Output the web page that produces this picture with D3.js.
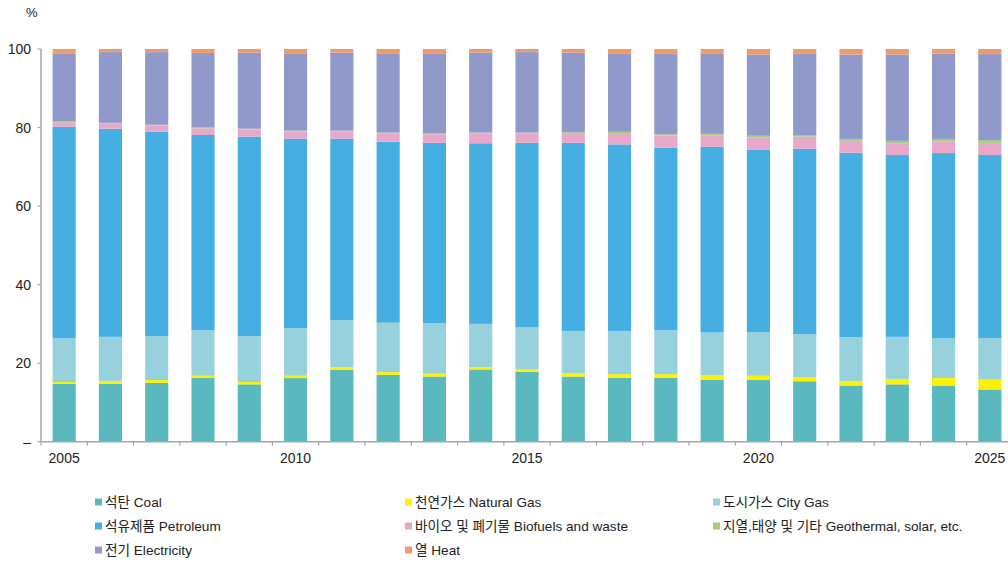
<!DOCTYPE html>
<html><head><meta charset="utf-8">
<script src="https://cdn.jsdelivr.net/npm/d3@7"></script>
<style>
body{margin:0;background:#fff;}
svg{display:block;font-family:"Liberation Sans","Noto Sans CJK KR",Arial,sans-serif;}
</style></head>
<body><svg id="c" width="1008" height="562"></svg>
<script>
const years = [2005,2006,2007,2008,2009,2010,2011,2012,2013,2014,2015,2016,2017,2018,2019,2020,2021,2022,2023,2024,2025];
const coal        = [14.7,14.7,15.0,16.3,14.6,16.2,18.3,17.0,16.6,18.4,17.8,16.6,16.3,16.3,15.8,15.7,15.4,14.3,14.6,14.3,13.3];
const naturalGas  = [0.5,0.8,0.7,0.5,0.6,0.6,0.7,0.7,0.7,0.6,0.6,0.9,0.9,0.9,1.1,1.1,1.0,1.1,1.4,1.9,2.5];
const cityGas     = [11.1,11.2,11.2,11.6,11.7,12.1,12.0,12.6,12.9,11.0,10.8,10.7,11.0,11.2,10.9,11.1,11.0,11.2,10.7,10.2,10.6];
const petroleum   = [53.9,53.0,52.0,49.7,50.8,48.3,46.2,46.1,45.9,46.0,46.9,47.9,47.5,46.5,47.3,46.5,47.2,47.0,46.3,47.1,46.6];
const biofuels    = [1.1,1.3,1.6,1.7,1.8,1.8,1.8,2.1,2.2,2.5,2.4,2.5,2.9,3.1,2.9,3.1,3.1,3.0,3.0,3.0,3.1];
const geothermal  = [0.2,0.2,0.2,0.2,0.2,0.2,0.2,0.2,0.2,0.2,0.2,0.2,0.3,0.3,0.4,0.4,0.4,0.5,0.6,0.6,0.7];
const electricity = [17.4,18.0,18.5,19.0,19.4,19.7,19.9,20.2,20.4,20.4,20.5,20.3,20.0,20.6,20.5,20.7,20.8,21.5,22.0,21.7,21.9];
const heat        = [1.1,0.8,0.8,1.0,0.9,1.1,0.9,1.1,1.1,0.9,0.8,0.9,1.1,1.1,1.1,1.4,1.1,1.4,1.4,1.2,1.3];
const seriesNames = ["석탄 Coal","천연가스 Natural Gas","도시가스 City Gas","석유제품 Petroleum","바이오 및 폐기물 Biofuels and waste","지열,태양 및 기타 Geothermal, solar, etc.","전기 Electricity","열 Heat"];
const seriesColors = ["#5ab9be","#fff200","#96d1dc","#47aee2","#e8a8c9","#a1cf7e","#9199cb","#f09a6a"];
const yTicks = [0,20,40,60,80,100];
const yTickLabels = ["–","20","40","60","80","100"];
const xLabelYears = [2005,2010,2015,2020,2025];

const seriesData = [coal,naturalGas,cityGas,petroleum,biofuels,geothermal,electricity,heat];
const keys = seriesNames;
const table = years.map((yr,i)=>{const o={year:yr}; keys.forEach((k,j)=>o[k]=seriesData[j][i]); return o;});
const stacked = d3.stack().keys(keys)(table);

const svg = d3.select("#c");
const x = d3.scaleBand().domain(years).range([41,1013]).paddingInner(0.5).paddingOuter(0.25);
const y = d3.scaleLinear().domain([0,100]).range([441.7,49]);

const g = svg.append("g");
g.selectAll("g.s").data(stacked).join("g").attr("fill",(d,i)=>seriesColors[i])
 .selectAll("rect").data(d=>d).join("rect")
 .attr("x",d=>x(d.data.year)).attr("width",x.bandwidth())
 .attr("y",d=>y(d[1])).attr("height",d=>y(d[0])-y(d[1]));

// y axis
const axisCol = "#a6a6a6";
svg.append("line").attr("x1",41).attr("x2",41).attr("y1",y(100)).attr("y2",y(0)).attr("stroke",axisCol).attr("stroke-width",1.5);
svg.selectAll("line.yt").data(yTicks).join("line").attr("class","yt")
 .attr("x1",37.5).attr("x2",41).attr("y1",d=>y(d)).attr("y2",d=>y(d)).attr("stroke",axisCol).attr("stroke-width",1.2);
svg.selectAll("text.yl").data(yTicks).join("text").attr("class","yl")
 .attr("x",31).attr("y",d=>y(d)+5).attr("text-anchor","end").attr("font-size",14).attr("fill","#222")
 .text((d,i)=>yTickLabels[i]);
svg.append("text").attr("x",26).attr("y",17).attr("font-size",13).attr("fill","#222").text("%");

// x axis
const step = x.step();
const x0 = x.range()[0];
svg.append("line").attr("x1",40.25).attr("x2",1008).attr("y1",y(0)).attr("y2",y(0)).attr("stroke",axisCol).attr("stroke-width",1.5);
svg.selectAll("line.xt").data(d3.range(years.length+1)).join("line").attr("class","xt")
 .attr("x1",i=>x0+i*step).attr("x2",i=>x0+i*step).attr("y1",y(0)).attr("y2",y(0)+4).attr("stroke",axisCol).attr("stroke-width",1.2);
svg.selectAll("text.xl").data(xLabelYears).join("text").attr("class","xl")
 .attr("x",d=>x(d)+x.bandwidth()/2).attr("y",463).attr("text-anchor","middle").attr("font-size",14).attr("fill","#222")
 .text(d=>d);

// legend
const colX = [95,405,713];
const rowY = [502,526,550];
const order = [[0,0,0],[1,1,0],[2,2,0],[3,0,1],[4,1,1],[5,2,1],[6,0,2],[7,1,2]];
const lg = svg.append("g");
order.forEach(([si,c,r])=>{
  lg.append("rect").attr("x",colX[c]).attr("y",rowY[r]-3.5).attr("width",7).attr("height",7).attr("fill",seriesColors[si]);
  lg.append("text").attr("x",colX[c]+10).attr("y",rowY[r]+5).attr("font-size",13.6).attr("fill","#222").text(seriesNames[si]);
});
</script></body></html>
